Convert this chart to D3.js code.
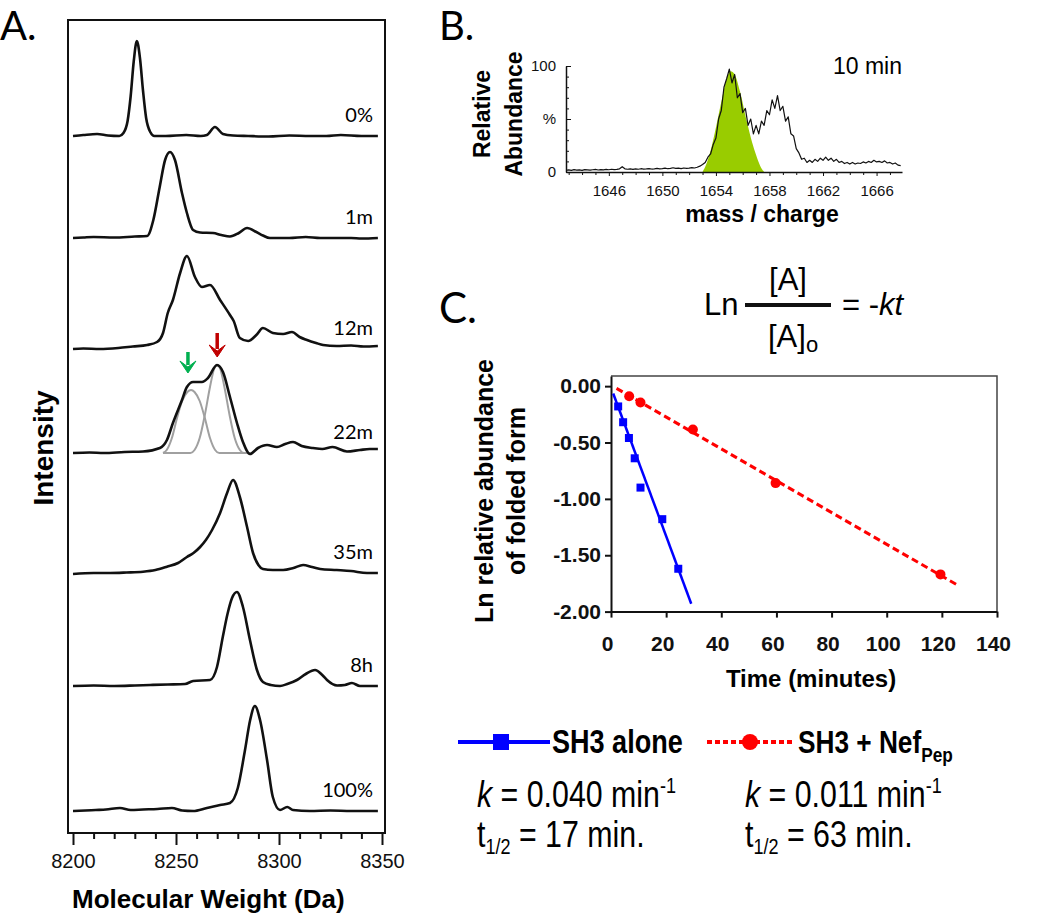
<!DOCTYPE html>
<html>
<head>
<meta charset="utf-8">
<script src="https://cdn.jsdelivr.net/npm/d3@7"></script>
<style>
  html, body { margin: 0; padding: 0; background: #fff; }
  svg { display: block; }
</style>
</head>
<body>
<div id="chart"></div>
<script>
/**
 * Figure data
 */

// ---- Panel A: stacked deconvoluted spectra (molecular weight, intensity) ----
const traceLabels = ['0%', '1m', '12m', '22m', '35m', '8h', '100%'];
// vertical offset of each spectrum in the stack (intensity units)
const traceOffsets = [697, 595, 484, 380, 260, 147, 22];

const trace0pct = [
  [8200, 0], [8205, 1], [8211.7, 2], [8217, 0.5], [8222.5, 0], [8224.5, 3], [8226.5, 15],
  [8228, 40], [8229.5, 75], [8231, 95], [8232.5, 78], [8234, 45], [8235.5, 18], [8237.5, 4],
  [8239.5, 0], [8245, 0], [8255, 1], [8262, 0], [8265, 1], [8268.9, 9], [8272.8, 2],
  [8277.7, 0.5], [8285, 0], [8295, -0.5], [8305, 0.5], [8315, 0], [8323, 0], [8330, 1],
  [8340, 0], [8348, 0]
];
const trace1m = [
  [8200, 0], [8205, 0.5], [8210, 1], [8220, 0.5], [8230, 1.5], [8236, 2], [8239, 18],
  [8242, 50], [8244.7, 78], [8247.1, 86], [8249.5, 78], [8252.9, 45], [8255.3, 25],
  [8258.3, 8], [8261.7, 5.5], [8268, 5], [8272, 3], [8276.2, 1.5], [8280.5, 5],
  [8284.5, 10], [8289, 6], [8292.2, 2.5], [8295.6, 0], [8305, 0], [8313, 1], [8320, 0],
  [8335, 0], [8340, -0.5], [8348, 0]
];
const trace12m = [
  [8200, 0], [8205, 0.5], [8213, 0], [8222, 1], [8229, 2.5], [8236, 4], [8240.8, 7],
  [8243.7, 16], [8246, 36], [8248.5, 49], [8252, 76], [8255.3, 93], [8259.2, 72],
  [8262.6, 62], [8266.5, 64], [8271.4, 49], [8276.2, 34], [8278, 28], [8281, 11],
  [8285, 8], [8289, 14], [8292.2, 21], [8297, 16], [8302, 15], [8306.3, 17], [8310, 12],
  [8313.6, 9], [8318, 6], [8321.4, 4], [8328, 3], [8335, 3.5], [8341, 2.5], [8348, 3]
];
const trace22m = [
  [8200, 0], [8208, 0.5], [8215, 0], [8225, 1], [8234, 1.5], [8242.2, 5], [8245.6, 13],
  [8248.5, 30], [8252.9, 53], [8255.3, 66], [8258.3, 71], [8262.6, 71], [8265.5, 75],
  [8269.9, 88], [8272.8, 81], [8276.2, 56], [8279.6, 30], [8282.5, 11], [8285.9, -1],
  [8289.8, 5], [8294.2, 8], [8299, 6], [8303, 9], [8306.8, 11], [8311, 7], [8316.5, 5],
  [8321, 4], [8326, 6], [8333, 1.5], [8339.3, 3], [8344, 4], [8348, 4]
];
const trace35m = [
  [8200, -1], [8210, 0], [8218, 0], [8226, 0.5], [8234, 1.3], [8240, 3], [8245.6, 6.3],
  [8251, 10], [8255.3, 16], [8258.5, 20], [8261.7, 26], [8264.5, 33], [8267.5, 43],
  [8271.4, 60], [8274.8, 80], [8277.7, 93], [8281, 76], [8284.5, 46], [8287.4, 20],
  [8290, 8], [8292.2, 4], [8297, 3], [8302, 3], [8307, 5], [8311.7, 8], [8316, 6],
  [8320, 4], [8328, 3], [8335, 2], [8342.7, 0], [8348, 0]
];
const trace8h = [
  [8200, 0], [8210, 0.5], [8220, 0], [8230, 0.5], [8237.4, 1], [8246, 1.5], [8254.4, 2],
  [8258.3, 5], [8266.5, 6], [8269.9, 19], [8272.8, 50], [8275, 72], [8277.2, 88],
  [8279.6, 94], [8282.5, 79], [8285.9, 46], [8289.3, 16], [8292.2, 4], [8296, 1],
  [8300.5, 0], [8304, 2], [8308.7, 6], [8313, 12], [8317.5, 16], [8321, 11], [8323.3, 6],
  [8328.2, 0.5], [8332, 1], [8335.4, 3], [8339.3, 0], [8348, 0]
];
const trace100pct = [
  [8200, 0], [8206, 0.5], [8211, 1], [8216, 1.5], [8222.8, 3], [8228, 1], [8234, 1.5],
  [8241, 2], [8248, 3], [8253, 0.5], [8258.3, 0], [8265, 3], [8271.4, 6], [8276.2, 8],
  [8280, 23], [8283.5, 61], [8286, 91], [8288.3, 105], [8290.8, 91], [8294.2, 51],
  [8297, 14], [8300.5, 1], [8304, 4], [8306.8, 1], [8315, 0], [8325, 0.5], [8335, 0],
  [8348, 0]
];
const traces = [trace0pct, trace1m, trace12m, trace22m, trace35m, trace8h, trace100pct];

// fitted components under the 22m spectrum (grey)
const fit22mLow = [
  [8243.7, 0], [8245.5, 3], [8248, 15], [8250.5, 35], [8253, 52], [8255.5, 61], [8257.3, 63],
  [8259, 61], [8261.5, 52], [8264, 35], [8266.5, 15], [8269, 3], [8271, 0], [8286, 0]
];
const fit22mHigh = [
  [8243.7, 0], [8257, 0], [8259, 3], [8261.5, 15], [8264, 38], [8266.5, 66], [8268.5, 84],
  [8270, 88], [8271.5, 84], [8273.5, 66], [8276, 38], [8278.5, 15], [8281, 3], [8283, 0],
  [8286, 0]
];
// arrows over the 22m spectrum: [mw, top, tip] in intensity units above its baseline
const arrowMw = [8255.8, 8270];
const arrowTop = [101, 120];
const arrowTip = [80, 96];
const arrowColors = ['#00b050', '#c00000'];

const mwTicks = [8200, 8250, 8300, 8350];
const mwMinorTicks = [8210, 8220, 8230, 8240, 8260, 8270, 8280, 8290, 8310, 8320, 8330, 8340];

// ---- Panel B: raw m/z spectrum at 10 min ----
const mzStart = 1642.8;
const mzStep = 0.2;
const abundance10min = [
  1.5, 2, 1.5, 2.2, 1.8, 2, 1.6, 2.3, 2, 1.7,
  2.1, 2.4, 1.9, 2.2, 2, 2.5, 2.1, 2.6, 2.2, 2.4,
  3, 5, 3, 2.6, 3, 2.5, 2.9, 2.6, 3.1, 2.7,
  2.9, 3.2, 2.8, 3, 3.4, 2.9, 3.2, 3.6, 3.1, 3.5,
  4, 3.4, 3.6, 3.2, 3.8, 3.4, 3.6, 4.2, 3.8, 4.5,
  5.5, 7, 9, 14, 17, 26, 32, 50, 58, 80,
  88, 97, 84, 92, 70, 74, 56, 60, 44, 50,
  36, 44, 36, 48, 44, 58, 54, 68, 60, 72,
  58, 62, 48, 52, 36, 34, 22, 18, 12, 13,
  9, 11, 9, 12, 10, 13, 11, 14, 11, 13,
  10, 12, 9, 10, 8, 9, 7.5, 9, 7.5, 8.5,
  8, 9.5, 8.5, 10, 9, 11, 9.5, 10, 9, 10.5,
  8.5, 9, 7.5, 8.5, 6.5, 6
];
// folded-form isotope envelope (green)
const foldedEnvelope = [
  [1653.0, 0], [1653.3, 8], [1653.6, 20], [1654.0, 42], [1654.4, 66], [1654.8, 88],
  [1655.1, 95], [1655.4, 92], [1655.8, 76], [1656.3, 48], [1656.7, 28], [1657.0, 16],
  [1657.3, 6], [1657.6, 0]
];
const mzTicks = [1646, 1650, 1654, 1658, 1662, 1666];
const mzMinorTicks = [1643, 1644, 1645, 1647, 1648, 1649, 1651, 1652, 1653, 1655, 1656,
  1657, 1659, 1660, 1661, 1663, 1664, 1665, 1667];
const abundanceTicks = [0, 50, 100];
const abundanceMinorTicks = [10, 20, 30, 40, 60, 70, 80, 90];

// ---- Panel C: unfolding kinetics ----
const sh3Time = [2.6, 4.4, 6.5, 8.6, 10.7, 18.6, 24.4];
const sh3LnAbund = [-0.18, -0.32, -0.46, -0.64, -0.90, -1.18, -1.62];
const nefTime = [6.6, 10.7, 29.7, 59.7, 119.5];
const nefLnAbund = [-0.09, -0.145, -0.385, -0.86, -1.67];
const sh3FitTime = [0.8, 29.1];
const sh3FitLn = [-0.065, -1.93];
const nefFitTime = [2.0, 126];
const nefFitLn = [-0.02, -1.77];
const timeTicks = [0, 20, 40, 60, 80, 100, 120, 140];
const lnTicks = [0, -0.5, -1, -1.5, -2];

const SANS = "'Liberation Sans', Arial, sans-serif";
const CALIBRI = "Lato, 'Open Sans', sans-serif";
const NARROW_SCALE = 0.82;   // no narrow face installed, squeeze the regular one
const BLUE = '#0000ff';
const RED = '#ff0000';

let svg;

/**
 * Text squeezed horizontally to mimic Arial Narrow
 */
function narrowText(g, x, y, size, weight) {
  return g.append('text')
    .attr('transform', `translate(${x},${y}) scale(${NARROW_SCALE},1)`)
    .style('font-family', SANS)
    .style('font-weight', weight || 'normal')
    .style('font-size', size + 'px');
}

/**
 * Panel A - stacked spectra
 */
function drawPanelA() {
  const g = svg.append('g').attr('class', 'panel-a');

  const x = d3.scaleLinear().domain([8200, 8350]).range([73, 382]);
  const y = d3.scaleLinear().domain([0, 813]).range([833, 20]);

  g.append('text')
    .attr('x', 0).attr('y', 40)
    .text('A.')
    .style('font-family', CALIBRI)
    .style('font-size', '40px');

  // frame
  g.append('rect')
    .attr('x', 68).attr('y', 20)
    .attr('width', 317).attr('height', 813)
    .style('fill', 'none')
    .style('stroke', '#111')
    .style('stroke-width', 2);

  const line = offset => d3.line()
    .x(d => x(d[0]))
    .y(d => y(offset + d[1]))
    .curve(d3.curveMonotoneX);

  // fitted grey components
  [fit22mLow, fit22mHigh].forEach(fit => {
    g.append('path')
      .attr('d', line(traceOffsets[3])(fit))
      .style('fill', 'none')
      .style('stroke', '#a0a0a0')
      .style('stroke-width', 2);
  });

  traces.forEach((trace, i) => {
    g.append('path')
      .attr('d', line(traceOffsets[i])(trace))
      .style('fill', 'none')
      .style('stroke', '#111')
      .style('stroke-width', 2.6)
      .style('stroke-linejoin', 'round');

    g.append('text')
      .attr('x', 373)
      .attr('y', y(traceOffsets[i] + 14))
      .attr('text-anchor', 'end')
      .text(traceLabels[i])
      .style('font-family', CALIBRI)
      .style('font-size', '20px');
  });

  // arrows over the 22m trace
  arrowMw.forEach((mw, i) => {
    const ax = x(mw);
    const yTop = y(traceOffsets[3] + arrowTop[i]);
    const yTip = y(traceOffsets[3] + arrowTip[i]);
    g.append('line')
      .attr('x1', ax).attr('x2', ax)
      .attr('y1', yTop).attr('y2', yTip - 8)
      .style('stroke', arrowColors[i])
      .style('stroke-width', 3.5);
    g.append('path')
      .attr('d', `M${ax - 8},${yTip - 12}L${ax},${yTip - 6}L${ax + 8},${yTip - 12}L${ax},${yTip}Z`)
      .style('fill', arrowColors[i])
      .style('stroke', arrowColors[i])
      .style('stroke-width', 1);
  });

  // x axis
  const axisMajor = g.append('g')
    .attr('transform', 'translate(0,833)')
    .call(d3.axisBottom(x).tickValues(mwTicks).tickSize(12).tickPadding(9).tickSizeOuter(0)
      .tickFormat(d3.format('d')));
  const axisMinor = g.append('g')
    .attr('transform', 'translate(0,833)')
    .call(d3.axisBottom(x).tickValues(mwMinorTicks).tickSize(6).tickFormat('').tickSizeOuter(0));
  [axisMajor, axisMinor].forEach(a => {
    a.select('.domain').remove();
    a.selectAll('line').style('stroke', '#111').style('stroke-width', 2);
  });
  axisMajor.selectAll('text')
    .style('font-family', SANS)
    .style('font-size', '20px')
    .style('fill', '#111');

  g.append('text')
    .attr('x', 72).attr('y', 908)
    .text('Molecular Weight (Da)')
    .style('font-family', SANS)
    .style('font-weight', 'bold')
    .style('font-size', '26px');

  g.append('text')
    .attr('transform', 'translate(53,448) rotate(-90)')
    .attr('text-anchor', 'middle')
    .text('Intensity')
    .style('font-family', SANS)
    .style('font-weight', 'bold')
    .style('font-size', '28px');
}

/**
 * Panel B - raw spectrum with the folded envelope filled
 */
function drawPanelB() {
  const g = svg.append('g').attr('class', 'panel-b');

  const x = d3.scaleLinear().domain([1642.8, 1667.9]).range([566, 902]);
  const y = d3.scaleLinear().domain([0, 100]).range([172, 66]);

  g.append('text')
    .attr('x', 439).attr('y', 40)
    .text('B.')
    .style('font-family', CALIBRI)
    .style('font-size', '40px');

  g.append('path')
    .datum(foldedEnvelope)
    .attr('d', d3.area().x(d => x(d[0])).y0(y(0)).y1(d => y(d[1])).curve(d3.curveMonotoneX))
    .style('fill', '#99cc00');

  const spectrum = abundance10min.map((v, i) => [mzStart + i * mzStep, v]);
  g.append('path')
    .datum(spectrum)
    .attr('d', d3.line().x(d => x(d[0])).y(d => y(d[1])))
    .style('fill', 'none')
    .style('stroke', '#111')
    .style('stroke-width', 1.2)
    .style('stroke-linejoin', 'round');

  // axes
  const xMajor = g.append('g')
    .attr('transform', 'translate(0,172)')
    .call(d3.axisBottom(x).tickValues(mzTicks).tickSize(4).tickPadding(9).tickSizeOuter(0)
      .tickFormat(d3.format('d')));
  const xMinor = g.append('g')
    .attr('transform', 'translate(0,172)')
    .call(d3.axisBottom(x).tickValues(mzMinorTicks).tickSize(3).tickFormat('').tickSizeOuter(0));
  xMinor.select('.domain').remove();

  const yMajor = g.append('g')
    .attr('transform', 'translate(566,0)')
    .call(d3.axisLeft(y).tickValues(abundanceTicks).tickSize(-5).tickPadding(10).tickSizeOuter(0)
      .tickFormat(d => d === 50 ? '%' : d));
  const yMinor = g.append('g')
    .attr('transform', 'translate(566,0)')
    .call(d3.axisLeft(y).tickValues(abundanceMinorTicks).tickSize(-3).tickFormat('').tickSizeOuter(0));
  yMinor.select('.domain').remove();

  [xMajor, xMinor, yMajor, yMinor].forEach(a => {
    a.selectAll('line').style('stroke', '#111').style('stroke-width', 1);
    a.select('.domain').style('stroke', '#111').style('stroke-width', 1.5);
    a.selectAll('text')
      .style('font-family', SANS)
      .style('font-size', '15px')
      .style('fill', '#111');
  });

  g.append('text')
    .attr('x', 762).attr('y', 222)
    .attr('text-anchor', 'middle')
    .text('mass / charge')
    .style('font-family', SANS)
    .style('font-weight', 'bold')
    .style('font-size', '23px');

  [['Relative', 490], ['Abundance', 522]].forEach(([t, bx]) => {
    g.append('text')
      .attr('transform', `translate(${bx},114) rotate(-90)`)
      .attr('text-anchor', 'middle')
      .text(t)
      .style('font-family', SANS)
      .style('font-weight', 'bold')
      .style('font-size', '23px');
  });

  g.append('text')
    .attr('x', 902).attr('y', 74)
    .attr('text-anchor', 'end')
    .text('10 min')
    .style('font-family', SANS)
    .style('font-size', '23px');
}

/**
 * Panel C - first-order unfolding plot
 */
function drawPanelC() {
  const g = svg.append('g').attr('class', 'panel-c');

  const x = d3.scaleLinear().domain([0, 140]).range([611, 997]);
  const y = d3.scaleLinear().domain([-2, 0.09]).range([611.6, 376]);

  g.append('text')
    .attr('x', 439).attr('y', 323)
    .text('C.')
    .style('font-family', CALIBRI)
    .style('font-size', '42px');

  // rate equation
  const eq = g.append('g').style('font-family', SANS).style('font-size', '31px');
  eq.append('text').attr('x', 704).attr('y', 315).text('Ln');
  eq.append('text').attr('x', 788).attr('y', 290).attr('text-anchor', 'middle').text('[A]');
  eq.append('rect').attr('x', 745).attr('y', 303).attr('width', 86).attr('height', 4).style('fill', '#111');
  const a0 = eq.append('text').attr('x', 768).attr('y', 347);
  a0.append('tspan').text('[A]');
  a0.append('tspan').attr('dy', 5).style('font-size', '22px').text('o');
  const kt = eq.append('text').attr('x', 842).attr('y', 315);
  kt.append('tspan').text('= -');
  kt.append('tspan').style('font-style', 'italic').text('kt');

  // frame top and right
  g.append('path')
    .attr('d', `M${x(0)},${y(0.09)}H${x(140)}V${y(-2)}`)
    .style('fill', 'none')
    .style('stroke', '#444')
    .style('stroke-width', 1.5);

  const xAxis = g.append('g')
    .attr('transform', `translate(0,${y(-2)})`)
    .call(d3.axisBottom(x).tickValues(timeTicks).tickSize(6).tickPadding(18).tickSizeOuter(0));
  const yAxis = g.append('g')
    .attr('transform', `translate(${x(0)},0)`)
    .call(d3.axisLeft(y).tickValues(lnTicks).tickSize(6).tickPadding(4).tickSizeOuter(0)
      .tickFormat(d => d3.format('.2f')(d).replace('−', '-')));
  [xAxis, yAxis].forEach(a => {
    a.select('.domain').style('stroke', '#111').style('stroke-width', 2);
    a.selectAll('line').style('stroke', '#111').style('stroke-width', 2);
    a.selectAll('text')
      .style('font-family', SANS)
      .style('font-weight', 'bold')
      .style('font-size', '21px')
      .style('fill', '#111');
  });
  xAxis.selectAll('text').attr('dx', -4);

  g.append('text')
    .attr('x', 811).attr('y', 687)
    .attr('text-anchor', 'middle')
    .text('Time (minutes)')
    .style('font-family', SANS)
    .style('font-weight', 'bold')
    .style('font-size', '24px');

  [['Ln relative abundance', 493], ['of folded form', 525]].forEach(([t, bx]) => {
    g.append('text')
      .attr('transform', `translate(${bx},491) rotate(-90)`)
      .attr('text-anchor', 'middle')
      .text(t)
      .style('font-family', SANS)
      .style('font-weight', 'bold')
      .style('font-size', '25px');
  });

  // fit lines
  g.append('line')
    .attr('x1', x(sh3FitTime[0])).attr('y1', y(sh3FitLn[0]))
    .attr('x2', x(sh3FitTime[1])).attr('y2', y(sh3FitLn[1]))
    .style('stroke', BLUE)
    .style('stroke-width', 2.5);
  g.append('line')
    .attr('x1', x(nefFitTime[0])).attr('y1', y(nefFitLn[0]))
    .attr('x2', x(nefFitTime[1])).attr('y2', y(nefFitLn[1]))
    .style('stroke', RED)
    .style('stroke-width', 3)
    .style('stroke-dasharray', '7,4');

  // data points
  g.selectAll('.sh3')
    .data(sh3Time)
    .enter()
    .append('rect')
    .attr('class', 'sh3')
    .attr('x', d => x(d) - 4)
    .attr('y', (d, i) => y(sh3LnAbund[i]) - 4)
    .attr('width', 8).attr('height', 8)
    .style('fill', BLUE);
  g.selectAll('.nef')
    .data(nefTime)
    .enter()
    .append('circle')
    .attr('class', 'nef')
    .attr('cx', d => x(d))
    .attr('cy', (d, i) => y(nefLnAbund[i]))
    .attr('r', 5)
    .style('fill', RED);

  drawLegend(g);
}

/**
 * Legend with the rate constants underneath
 */
function drawLegend(g) {
  // SH3 alone
  g.append('line')
    .attr('x1', 458).attr('x2', 550).attr('y1', 742).attr('y2', 742)
    .style('stroke', BLUE).style('stroke-width', 4);
  g.append('rect')
    .attr('x', 493).attr('y', 734).attr('width', 16).attr('height', 16)
    .style('fill', BLUE);
  narrowText(g, 552, 753, 33, 'bold').text('SH3 alone');

  // SH3 + NefPep
  g.append('line')
    .attr('x1', 707).attr('x2', 795).attr('y1', 742).attr('y2', 742)
    .style('stroke', RED).style('stroke-width', 4)
    .style('stroke-dasharray', '5,3');
  g.append('circle')
    .attr('cx', 750).attr('cy', 742).attr('r', 8)
    .style('fill', RED);
  const nefLabel = narrowText(g, 798, 753, 32, 'bold');
  nefLabel.append('tspan').text('SH3 + Nef');
  nefLabel.append('tspan').attr('dy', 9).style('font-size', '21px').text('Pep');

  const rates = [
    { x: 477, k: '0.040', t: '17' },
    { x: 745, k: '0.011', t: '63' }
  ];
  rates.forEach(r => {
    const kText = narrowText(g, r.x, 807, 37);
    kText.append('tspan').style('font-style', 'italic').text('k');
    kText.append('tspan').text(` = ${r.k} min`);
    kText.append('tspan').attr('dy', -14).style('font-size', '22px').text('-1');

    const tText = narrowText(g, r.x, 847, 37);
    tText.append('tspan').text('t');
    tText.append('tspan').attr('dy', 7).style('font-size', '22px').text('1/2');
    tText.append('tspan').attr('dy', -7).text(` = ${r.t} min.`);
  });
}

document.addEventListener('DOMContentLoaded', function() {
  svg = d3.select('#chart')
    .append('svg')
    .attr('width', 1050)
    .attr('height', 916);

  drawPanelA();
  drawPanelB();
  drawPanelC();
});
</script>
</body>
</html>
